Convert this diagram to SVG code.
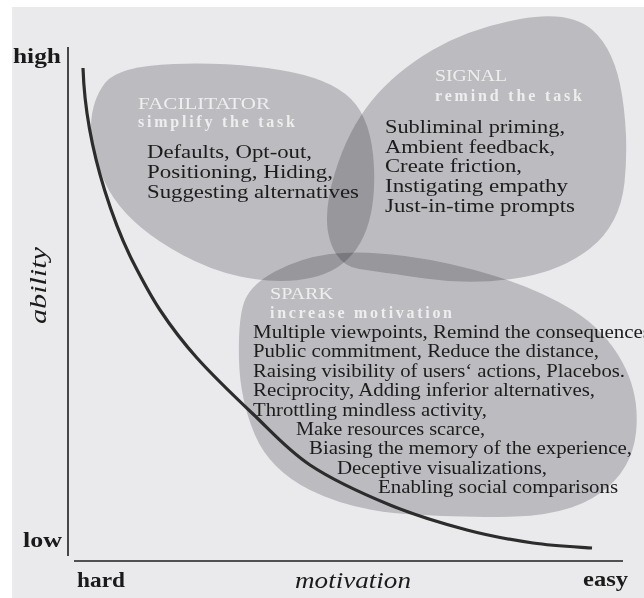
<svg xmlns="http://www.w3.org/2000/svg" width="644" height="598" viewBox="0 0 644 598">
<style>
.blob{fill:#cdcdd0;mix-blend-mode:multiply}
.body{font-family:"Liberation Serif","Times New Roman",serif;font-size:19.5px;fill:#1c1c1c}
.head{font-family:"Liberation Serif","Times New Roman",serif;font-size:16px;fill:#eeeeee}
.sub{font-family:"Liberation Serif","Times New Roman",serif;font-size:16px;font-weight:bold;fill:#eeeeee}
.ax{font-family:"Liberation Serif","Times New Roman",serif;font-size:22px;font-weight:bold;fill:#1a1a1a}
.axi{font-family:"Liberation Serif","Times New Roman",serif;font-size:23px;font-style:italic;fill:#1a1a1a}
.line{stroke:#1e1e1e;stroke-width:1.6;fill:none}
.curve{stroke:#2c2c2c;stroke-width:3.2;fill:none}
</style>
<rect x="0" y="0" width="644" height="598" fill="#ffffff"/>
<rect x="12" y="7" width="632" height="591" fill="#eaeaec"/>

<g id="facilitator">
<path class="blob" d="M91,125 Q92,100 105,83 Q118,66 174,64 Q230,62 280,70 Q330,78 351,99 Q372,120 374,167.5 Q376,215 360.5,242.5 Q345,270 312.5,277.5 Q280,285 240,276.5 Q200,268 160,241.5 Q120,215 105,182.5 Q90,150 91,125 Z"/>
</g>
<g id="signal">
<path class="blob" d="M432.5,50 Q470,28 520,19 Q570,10 592.5,30 Q615,50 622,95 Q629,140 624.5,182.5 Q620,225 590,248.5 Q560,272 515,278.5 Q470,285 425,278.5 Q380,272 359,269 Q338,266 330,240.5 Q322,215 335,172.5 Q348,130 371.5,101 Q395,72 432.5,50 Z"/>
</g>
<g id="spark">
<path class="blob" d="M244,302.5 Q250,285 275,271.5 Q300,258 330,254 Q360,250 405,256 Q450,262 495,276 Q540,290 572.5,310 Q605,330 622.5,362.5 Q640,395 636,432.5 Q632,470 601,492.5 Q570,515 515,516.5 Q460,518 405,514 Q350,510 310,490 Q270,470 255,435 Q240,400 239,360 Q238,320 244,302.5 Z"/>
</g>

<g id="facilitator-text">
<text class="head" x="138" y="109" textLength="132" lengthAdjust="spacingAndGlyphs">FACILITATOR</text>
<text class="sub" x="138" y="127" textLength="157" lengthAdjust="spacing">simplify the task</text>
<text class="body" x="147" y="158" textLength="165" lengthAdjust="spacingAndGlyphs">Defaults, Opt-out,</text>
<text class="body" x="147" y="178" textLength="186" lengthAdjust="spacingAndGlyphs">Positioning, Hiding,</text>
<text class="body" x="147" y="198" textLength="212" lengthAdjust="spacingAndGlyphs">Suggesting alternatives</text>
</g>
<g id="signal-text">
<text class="head" x="435" y="81" textLength="72" lengthAdjust="spacingAndGlyphs">SIGNAL</text>
<text class="sub" x="435" y="101" textLength="147" lengthAdjust="spacing">remind the task</text>
<text class="body" x="385" y="133" textLength="180" lengthAdjust="spacingAndGlyphs">Subliminal priming,</text>
<text class="body" x="385" y="153" textLength="170" lengthAdjust="spacingAndGlyphs">Ambient feedback,</text>
<text class="body" x="385" y="172" textLength="137" lengthAdjust="spacingAndGlyphs">Create friction,</text>
<text class="body" x="385" y="192" textLength="183" lengthAdjust="spacingAndGlyphs">Instigating empathy</text>
<text class="body" x="385" y="212" textLength="190" lengthAdjust="spacingAndGlyphs">Just-in-time prompts</text>
</g>
<g id="spark-text">
<text class="head" x="270" y="299" textLength="63" lengthAdjust="spacingAndGlyphs">SPARK</text>
<text class="sub" x="270" y="318" textLength="182" lengthAdjust="spacing">increase motivation</text>
<text class="body" x="253" y="338" textLength="398" lengthAdjust="spacingAndGlyphs">Multiple viewpoints, Remind the consequences</text>
<text class="body" x="253" y="357" textLength="346" lengthAdjust="spacingAndGlyphs">Public commitment, Reduce the distance,</text>
<text class="body" x="253" y="377" textLength="372" lengthAdjust="spacingAndGlyphs">Raising visibility of users‘ actions, Placebos.</text>
<text class="body" x="253" y="396" textLength="342" lengthAdjust="spacingAndGlyphs">Reciprocity, Adding inferior alternatives,</text>
<text class="body" x="253" y="416" textLength="234" lengthAdjust="spacingAndGlyphs">Throttling mindless activity,</text>
<text class="body" x="296" y="435" textLength="189" lengthAdjust="spacingAndGlyphs">Make resources scarce,</text>
<text class="body" x="309" y="454" textLength="323" lengthAdjust="spacingAndGlyphs">Biasing the memory of the experience,</text>
<text class="body" x="337" y="474" textLength="210" lengthAdjust="spacingAndGlyphs">Deceptive visualizations,</text>
<text class="body" x="378" y="493" textLength="240" lengthAdjust="spacingAndGlyphs">Enabling social comparisons</text>
</g>

<g id="axes">
<line class="line" x1="68" y1="47" x2="68" y2="556"/>
<line class="line" x1="74" y1="561" x2="623" y2="561"/>
<text class="ax" x="13" y="63" textLength="48" lengthAdjust="spacingAndGlyphs">high</text>
<text class="ax" x="23" y="547" textLength="39" lengthAdjust="spacingAndGlyphs">low</text>
<text class="ax" x="77" y="587" textLength="48" lengthAdjust="spacingAndGlyphs">hard</text>
<text class="ax" x="583" y="586" textLength="45" lengthAdjust="spacingAndGlyphs">easy</text>
<text class="axi" x="295" y="588" textLength="116" lengthAdjust="spacingAndGlyphs">motivation</text>
<text class="axi" transform="translate(46,324) rotate(-90)" x="0" y="0" textLength="77" lengthAdjust="spacingAndGlyphs">ability</text>
</g>

<g id="connectors">
<path class="curve" d="M83,68 C86,160 122,240 132,260 C140.3,276.3 149.2,293.7 160,310 C170.8,326.3 181.5,340.7 197,358 C212.5,375.3 234.2,396.2 253,414 C271.8,431.8 287.2,449.8 310,465 C332.8,480.2 363.8,494.2 390,505 C416.2,515.8 443.2,523.7 467,530 C490.8,536.3 512.2,540 533,543 C553.8,546 582.2,547.2 592,548"/>
</g>
</svg>
